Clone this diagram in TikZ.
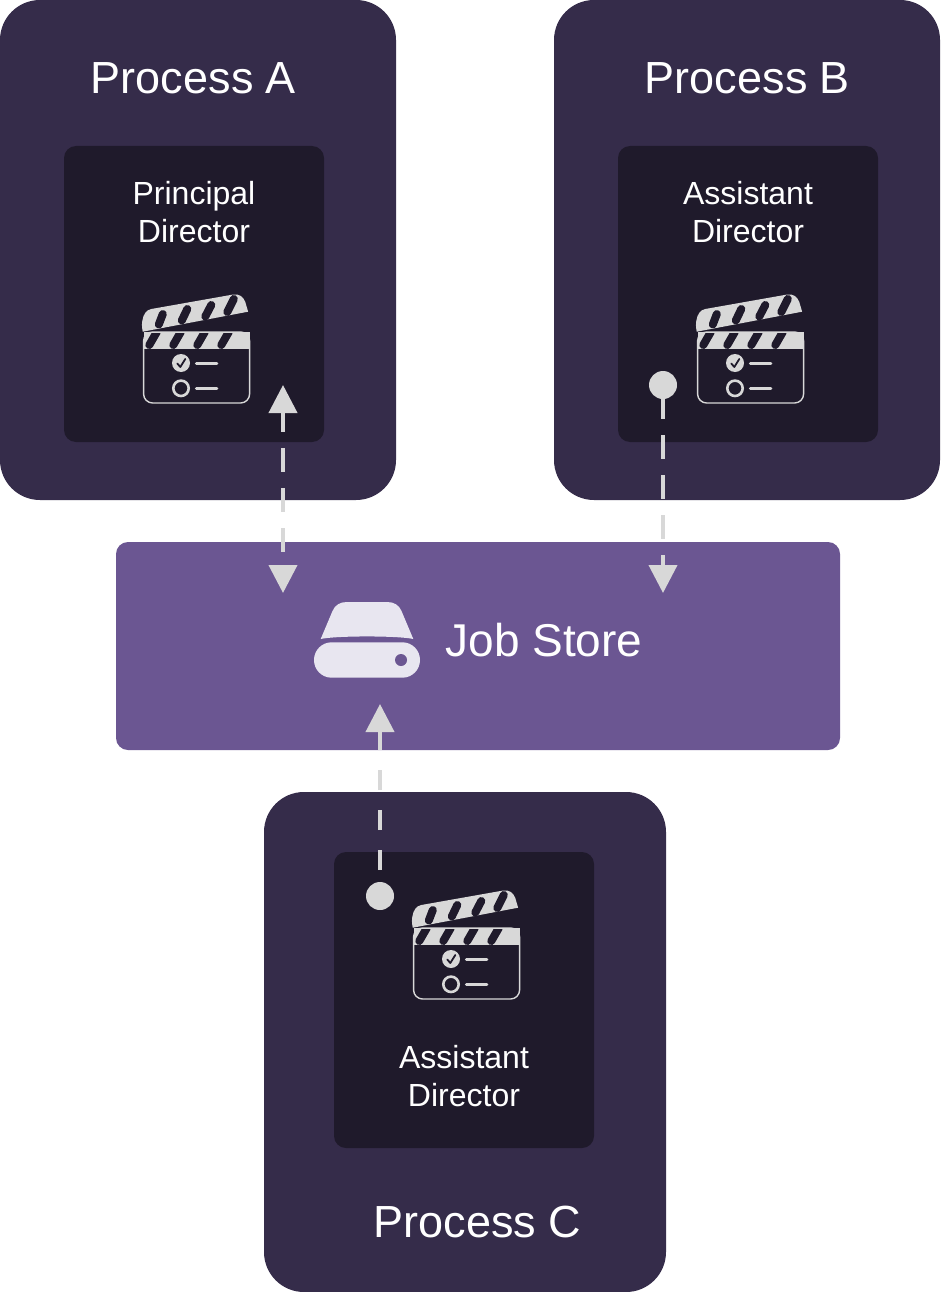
\documentclass[tikz,border=0pt]{standalone}
\usepackage{fontspec}
\setmainfont{Liberation Sans}
\usetikzlibrary{arrows.meta}
\definecolor{procbg}{HTML}{352C4A}
\definecolor{dirbg}{HTML}{1F1A2B}
\definecolor{storebg}{HTML}{6B5692}
\definecolor{light}{HTML}{D8D8D8}
\definecolor{disk}{HTML}{E8E6F0}
\tikzset{
  x=1pt,y=-1pt,
  process/.style={fill=procbg,rounded corners=40pt,draw=none},
  director/.style={fill=dirbg,rounded corners=12pt,draw=none},
  store/.style={fill=storebg,rounded corners=12pt,draw=none},
  title/.style={text=white,font=\fontsize{45}{50}\selectfont,inner sep=0pt,anchor=base},
  sub/.style={text=white,font=\fontsize{32}{38}\selectfont,inner sep=0pt,align=center,anchor=base},
  dot/.style={circle,fill=light,minimum size=28pt,inner sep=0pt,draw=none},
  link/.style={draw=light,line width=4pt},
  dashA/.style={dash pattern=on 24pt off 16pt,dash phase=4pt},
  dashB/.style={dash pattern=on 24pt off 16pt,dash phase=30pt},
  dashC/.style={dash pattern=on 20pt off 20pt,dash phase=14pt},
  tip/.style={-{Triangle[length=28pt,width=28pt,fill=light]}},
  bothtips/.style={{Triangle[length=28pt,width=28pt,fill=light]}-{Triangle[length=28pt,width=28pt,fill=light]}},
  stripe/.style={dirbg,line width=8pt,line cap=round},
  pics/clap/.style={code={
    % upper stick
    \fill[light] (-53.6,-25.3) .. controls (-54.5,-30) and (-54.5,-34) .. (-54,-36) .. controls (-53,-43) and (-50,-47) .. (-45,-48)
      -- (37,-62.5) .. controls (43,-63.5) and (47,-60) .. (49,-55) -- (51.8,-45.3) -- cycle;
    \draw[stripe] (-37.5,-32.5) -- (-33.5,-43);
    \draw[stripe] (-14.5,-36.5) -- (-9,-48);
    \draw[stripe] (9,-40.5) -- (15,-52);
    \draw[stripe] (31,-45) -- (37.5,-58);
    % lower stick
    \fill[light] (-52.7,-25) rectangle (53.3,-8);
    \begin{scope}
      \clip (-52.7,-23.6) rectangle (53.3,-8);
      \draw[stripe] (-47,-12) -- (-39.5,-25);
      \draw[stripe] (-23,-12) -- (-15.5,-25);
      \draw[stripe] (1,-12) -- (8.5,-25);
      \draw[stripe] (25,-12) -- (32.5,-25);
    \end{scope}
    % body
    \draw[light,line width=1.4pt,rounded corners=9pt] (-52.7,-25) rectangle (53.3,46);
    % rows
    \fill[light] (-15.3,6) circle (9);
    \draw[dirbg,line width=1.8pt,line cap=round,line join=round] (-19,6.5) -- (-16,10) -- (-11,2);
    \draw[light,line width=2.6pt] (-15.3,31.3) circle (7.7);
    \draw[light,line width=3pt,line cap=round] (0,6.3) -- (20.5,6.3);
    \draw[light,line width=3pt,line cap=round] (0,31.5) -- (20.5,31.5);
  }},
}
\begin{document}
\begin{tikzpicture}
\useasboundingbox (0,0) rectangle (940,1292);
\fill[white] (0,0) rectangle (940,1292);
% boxes
\fill[process] (0,0) rectangle (396,500);
\fill[process] (554,0) rectangle (940,500);
\fill[process] (264,792) rectangle (666,1292);
\fill[store] (116,542) rectangle (840,750);
\fill[director] (64,146) rectangle (324,442);
\fill[director] (618,146) rectangle (878,442);
\fill[director] (334,852) rectangle (594,1148);
% titles
\node[title] (procA) at (193.5,93.8) {Process A};
\node[title] (procB) at (747.5,93.8) {Process B};
\node[title] (procC) at (477.5,1237.8) {Process C};
\node[title,font=\fontsize{46}{50}\selectfont] (jobstore) at (544,656) {Job Store};
\node[sub] (lblA) at (194,242.3) {Principal\\Director};
\node[sub] (lblB) at (748,242.3) {Assistant\\Director};
\node[sub] (lblC) at (464,1106.3) {Assistant\\Director};
% clapper icons
\pic at (196.3,357) {clap};
\pic at (750.3,357) {clap};
\pic at (466.3,953) {clap};
% drive icon
\fill[disk] (320.7,639) .. controls (335,635.6) and (399,635.6) .. (413.3,639) -- (401.5,611) .. controls (399,605) and (394,602) .. (387,602) -- (347,602) .. controls (340,602) and (335,605) .. (332.5,611) -- cycle;
\fill[disk,rounded corners=17.6pt] (314,642.3) rectangle (420,677.7);
\fill[storebg] (401,660) circle (6);
% dots
\node[dot] (dotB) at (663,385) {};
\node[dot] (dotC) at (380,896) {};
\coordinate (tipA1) at (283,385);
\coordinate (tipA2) at (283,593);
\coordinate (tipB) at (663,593);
\coordinate (tipC) at (380,704);
% connectors
\draw[link,dashA,bothtips] (tipA1) -- (tipA2);
\draw[link,dashB,tip] (dotB.center) -- (tipB);
\draw[link,dashC,tip] (dotC.center) -- (tipC);
\end{tikzpicture}
\end{document}
